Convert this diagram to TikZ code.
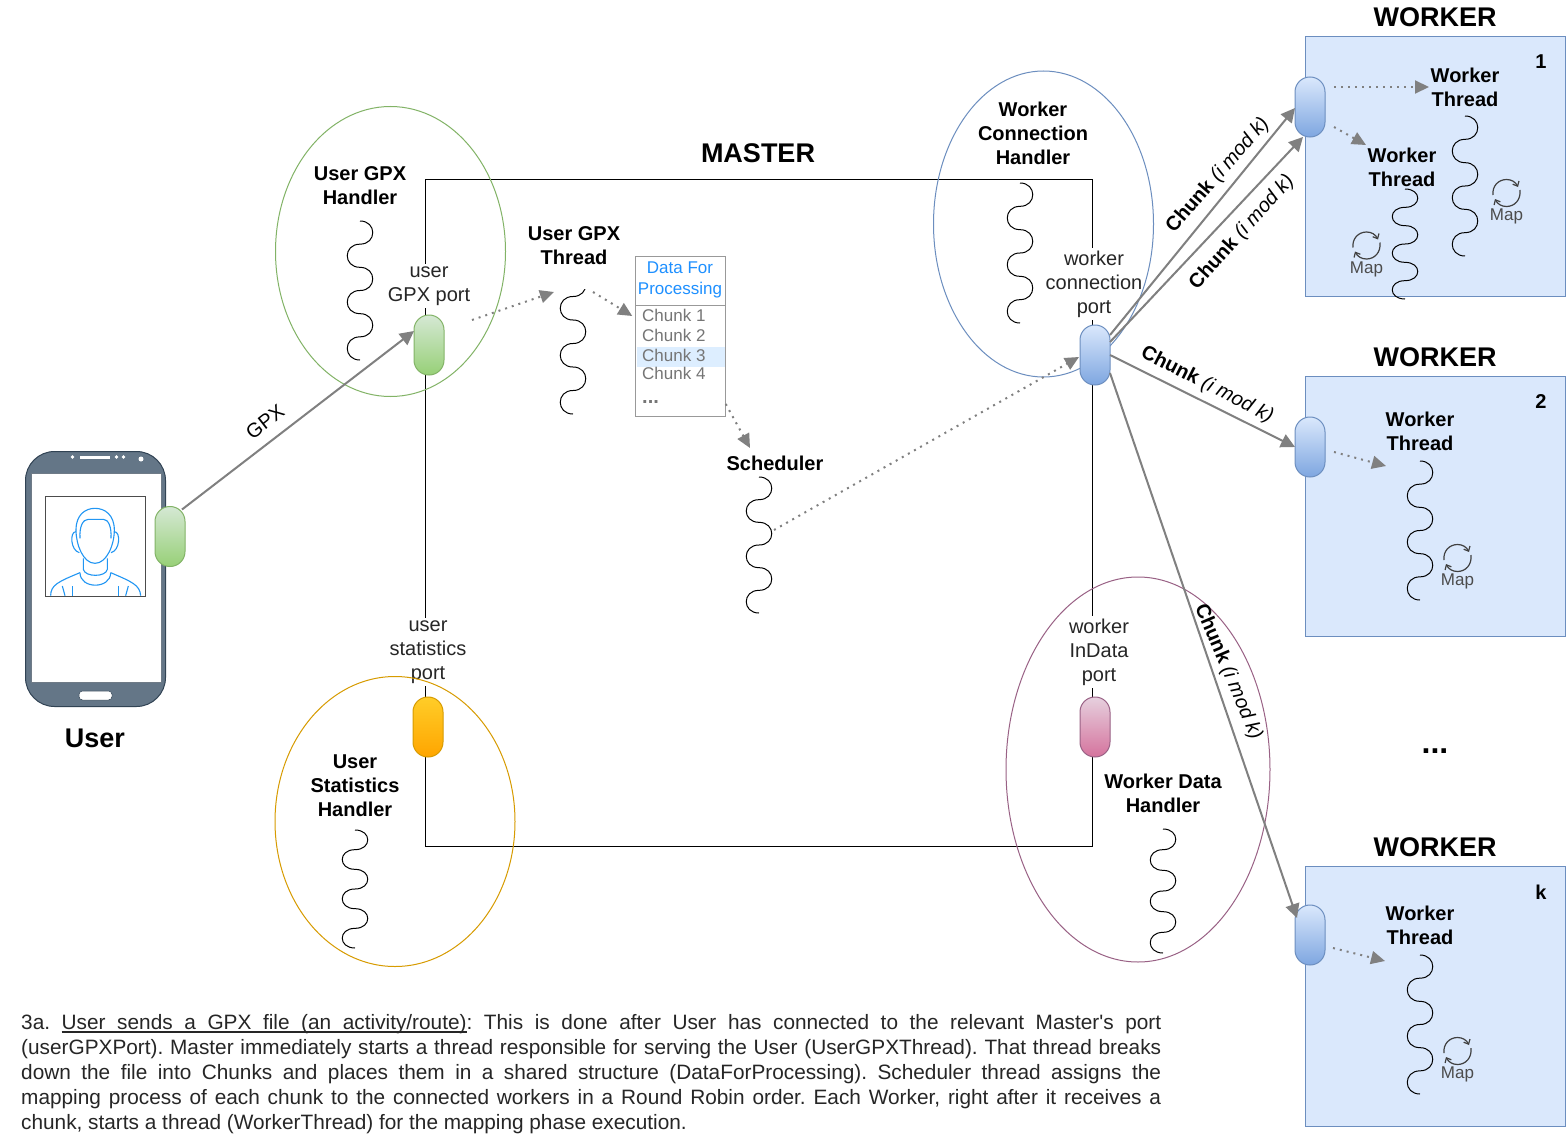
\documentclass[tikz,border=0pt]{standalone}
\usepackage{fontspec}
\setmainfont{Liberation Sans}
\usetikzlibrary{arrows.meta,calc,shapes.geometric}
\definecolor{arrowgray}{HTML}{808080}
\definecolor{wfill}{HTML}{DAE8FC}
\definecolor{wline}{HTML}{6C8EBF}
\definecolor{phonefill}{HTML}{647687}
\definecolor{phoneline}{HTML}{314354}
\definecolor{personblue}{HTML}{2196F3}
\definecolor{dodger}{HTML}{1E90FF}
\definecolor{txtgray}{HTML}{757575}
\definecolor{hl}{HTML}{DDEEFF}
\definecolor{wgreen}{HTML}{82B366}
\definecolor{wgreenA}{HTML}{D5E8D4}
\definecolor{wgreenB}{HTML}{97D077}
\definecolor{wblueB}{HTML}{7EA6E0}
\definecolor{orangeL}{HTML}{D79B00}
\definecolor{orangeA}{HTML}{FFCD28}
\definecolor{orangeB}{HTML}{FFA500}
\definecolor{pinkL}{HTML}{996185}
\definecolor{pinkA}{HTML}{E6D0DE}
\definecolor{pinkB}{HTML}{D5739D}
\newcommand\szA{\fontsize{20}{24}\selectfont}
\newcommand\szB{\fontsize{17}{20}\selectfont}
\newcommand\szC{\fontsize{27}{32}\selectfont}
\newcommand\ulw[1]{\leavevmode\setbox0\hbox{#1}\rlap{\vrule height -2.2pt depth 3.5pt width \wd0}\box0 }
\newcommand\ulsp{\unskip\leaders\hrule height -2.2pt depth 3.5pt\hskip 0.278em plus 0.139em minus 0.09em\relax}
\newcommand\wavy[3]{%
  \pgfmathsetmacro\wavL{#3/6}\pgfmathsetmacro\wavA{#1+17}\pgfmathsetmacro\wavB{#1-17}%
  \draw[threadwave] (#1,#2)
   .. controls (\wavA,#2) and (\wavA,{#2+\wavL}) .. (#1,{#2+\wavL})
   .. controls (\wavB,{#2+\wavL}) and (\wavB,{#2+2*\wavL}) .. (#1,{#2+2*\wavL})
   .. controls (\wavA,{#2+2*\wavL}) and (\wavA,{#2+3*\wavL}) .. (#1,{#2+3*\wavL})
   .. controls (\wavB,{#2+3*\wavL}) and (\wavB,{#2+4*\wavL}) .. (#1,{#2+4*\wavL})
   .. controls (\wavA,{#2+4*\wavL}) and (\wavA,{#2+5*\wavL}) .. (#1,{#2+5*\wavL})
   .. controls (\wavB,{#2+5*\wavL}) and (\wavB,{#2+6*\wavL}) .. (#1,{#2+6*\wavL});}
\newcommand\mapicon[2]{%
  \begin{scope}[shift={(#1,#2)}]
    \draw[refresh] (-13.5,2) .. controls (-14.5,-7) and (-8,-13.5) .. (0,-13.5) .. controls (5,-13.5) and (9,-11) .. (11.5,-6);
    \draw[refresh] (13.5,-3) .. controls (14.5,7) and (8,13.5) .. (0,13.5) .. controls (-5,13.5) and (-9,11) .. (-11.5,6);
    \node[maplabel] at (0,23.5) {Map};
  \end{scope}}
\tikzset{
  x=1pt,y=-1pt,
  threadwave/.style={draw=black,line width=1pt},
  pill/.style={draw,line width=1pt,rounded corners=14.9pt,minimum width=30pt,minimum height=60pt,inner sep=0pt},
  pgreen/.style={pill,draw=wgreen,top color=wgreenA,bottom color=wgreenB},
  pblue/.style={pill,draw=wline,top color=wfill,bottom color=wblueB},
  porange/.style={pill,draw=orangeL,top color=orangeA,bottom color=orangeB},
  ppink/.style={pill,draw=pinkL,top color=pinkA,bottom color=pinkB},
  solidarrow/.style={draw=arrowgray,line width=2pt,-{Triangle[length=14pt,width=14pt,fill=arrowgray]}},
  dotarrow/.style={draw=arrowgray,line width=2pt,dash pattern=on 2pt off 5pt,-{Triangle[length=14pt,width=13pt,fill=arrowgray,sep=0pt]}},
  lbl/.style={font=\szA\bfseries,align=center,inner sep=0pt},
  portlbl/.style={font=\szA,align=center,inner xsep=1pt,inner ysep=3pt,fill=white,text=black!85},
  chunklbl/.style={font=\szA,inner sep=0pt,text=black},
  wtitle/.style={font=\szC\bfseries,inner sep=0pt},
  wbox/.style={draw=wline,fill=wfill,line width=1pt,minimum width=260pt,minimum height=260pt,inner sep=0pt},
  refresh/.style={draw=black!75,line width=1.2pt,-{Straight Barb[length=4pt,width=7pt]}},
  maplabel/.style={font=\szB,text=black!70,inner sep=0pt},
  chunk/.style={font=\szB,text=txtgray,inner sep=0pt,anchor=west},
  person/.style={draw=personblue,line width=1.1pt},
  handler/.style={draw=#1,line width=1pt,ellipse,inner sep=0pt},
}
\begin{document}
\begin{tikzpicture}
\useasboundingbox (0,0) rectangle (1567,1148);
\fill[white] (0,0) rectangle (1567,1148);

% master
\node[draw=black,line width=1pt,minimum width=666.5pt,minimum height=666.5pt,inner sep=0pt] (master) at (758.8,513) {};
\node[wtitle] (mastert) at (758,153) {MASTER};

% worker boxes
\node[wbox] (w1) at (1435.5,166.5) {};
\node[wbox] (w2) at (1435.5,506.5) {};
\node[wbox] (wk) at (1435.5,996.5) {};
\node[wtitle] (w1t) at (1435,17) {WORKER};
\node[wtitle] (w2t) at (1435,357) {WORKER};
\node[wtitle] (wkt) at (1435,847) {WORKER};
\node[font=\fontsize{32}{36}\selectfont\bfseries,inner sep=0pt] (dots) at (1435,751) {...};
\node[lbl] (n1) at (1541,62) {1};
\node[lbl] (n2) at (1541,402) {2};
\node[lbl] (nk) at (1541,892) {k};

% port labels
\node[portlbl] (lgpx) at (429,286) {user\\GPX port};
\node[portlbl] (lstat) at (428,652) {user\\statistics\\port};
\node[portlbl] (lconn) at (1094,284) {worker\\connection\\port};
\node[portlbl] (lind) at (1099,652) {worker\\InData\\port};

% handler ellipses
\node[handler=wgreen,minimum width=230pt,minimum height=290pt] (hgpx) at (390.5,251.5) {};
\node[handler=orangeL,minimum width=240pt,minimum height=290pt] (hstat) at (395,821.5) {};
\node[handler=wline,minimum width=220pt,minimum height=306pt] (hconn) at (1043.5,224) {};
\node[handler=pinkL,minimum width=264pt,minimum height=385pt] (hdata) at (1138,769.5) {};

% text labels
\node[lbl] (t1) at (360,186) {User GPX\\Handler};
\node[lbl] (t2) at (574,246) {User GPX\\Thread};
\node[lbl] (t3) at (1033,133) {Worker\\Connection\\Handler};
\node[lbl] (t4) at (775,463) {Scheduler};
\node[lbl] (t5) at (355,786) {User\\Statistics\\Handler};
\node[lbl] (t6) at (1163,793) {Worker Data\\Handler};
\node[lbl] (t7) at (1465,87) {Worker\\Thread};
\node[lbl] (t8) at (1402,167) {Worker\\Thread};
\node[lbl] (t9) at (1420,431) {Worker\\Thread};
\node[lbl] (t10) at (1420,925) {Worker\\Thread};
\node[font=\fontsize{27}{32}\selectfont\bfseries,inner sep=0pt] (tuser) at (95,738) {User};

% waves
\wavy{360}{221}{139}
\begin{scope}
  \clip (540,289) rectangle (600,420);
  \wavy{573}{273}{141}
\end{scope}
\wavy{759}{477}{136}
\wavy{1020}{183}{140}
\wavy{355}{830}{118}
\wavy{1163}{829}{124}
\wavy{1465}{116}{140}
\wavy{1405}{189}{110}
\wavy{1420}{461}{139}
\wavy{1420}{955}{139}

% map icons
\mapicon{1506.5}{193}
\mapicon{1366.5}{245.5}
\mapicon{1457.5}{558}
\mapicon{1457.5}{1051}

% data for processing
\node[draw=black!40,fill=white,line width=1pt,minimum width=89.5pt,minimum height=160pt,inner sep=0pt] (dfp) at (680.5,336) {};
\fill[hl] (636.5,346.5) rectangle (725,366.5);
\draw[black!40,line width=1pt] (dfp.west |- 0,305) -- (dfp.east |- 0,305);
\node[font=\szB,text=dodger,align=center,inner sep=0pt] (dfpt) at (680,280) {Data For\\[1pt]Processing};
\node[chunk] (c1) at (642,315) {Chunk 1};
\node[chunk] (c2) at (642,335) {Chunk 2};
\node[chunk] (c3) at (642,355) {Chunk 3};
\node[chunk] (c4) at (642,373) {Chunk 4};
\node[chunk,font=\fontsize{20}{24}\selectfont\bfseries] (c5) at (642,402) {...};

% phone
\node[draw=phoneline,fill=phonefill,line width=1pt,rounded corners=29pt,minimum width=140pt,minimum height=255pt,inner sep=0pt] (phone) at (95.5,579) {};
\node[fill=white,draw=phoneline!70,line width=.5pt,minimum width=130pt,minimum height=209pt,inner sep=0pt] (screen) at (96,578.2) {};
\node[fill=white,draw=phoneline,line width=.5pt,rounded corners=3.5pt,minimum width=33pt,minimum height=9pt,inner sep=0pt] (homeb) at (95.5,695.5) {};
\fill[white] (79.5,456) rectangle (110,458.5);
\fill[white] (72.5,457) circle[radius=1.8pt] (116.5,457) circle[radius=1.8pt] (123.5,457) circle[radius=1.8pt] (141,459) circle[radius=2.5pt];
\node[draw=black!70,fill=white,line width=1pt,minimum width=100pt,minimum height=100pt,inner sep=0pt] (photo) at (95.5,546.5) {};
\begin{scope}[shift={(0,430)},x=0.33333pt,y=-0.33333pt]
  \draw[person] (228,300) .. controls (228,255) and (255,235) .. (285,235) .. controls (315,235) and (343,255) .. (343,300);
  \draw[person] (228,300) .. controls (228,345) and (250,400) .. (285,400) .. controls (320,400) and (343,345) .. (343,300);
  \draw[person] (240,325) .. controls (238,290) and (248,268) .. (265,268) -- (310,268) .. controls (325,268) and (335,290) .. (333,325);
  \draw[person] (228,305) .. controls (208,305) and (212,362) .. (238,368);
  \draw[person] (343,305) .. controls (363,305) and (360,362) .. (333,368);
  \draw[person] (250,385) -- (250,418) .. controls (255,442) and (318,442) .. (322,418) -- (322,385);
  \draw[person] (240,428) .. controls (240,478) and (332,478) .. (332,428);
  \draw[person] (152,497) .. controls (152,465) and (175,455) .. (240,428);
  \draw[person] (422,497) .. controls (420,465) and (395,455) .. (332,428);
  \draw[person] (187,468) -- (195,497);
  \draw[person] (217,468) -- (217,497);
  \draw[person] (355,468) -- (355,497);
  \draw[person] (385,468) -- (377,497);
\end{scope}

% pills
\node[pgreen] (pphone) at (170,536.5) {};
\node[pgreen] (pgpx) at (429,345) {};
\node[porange] (pstat) at (428,727) {};
\node[ppink] (pind) at (1095,727) {};
\node[pblue] (pconn) at (1095,355) {};
\node[pblue] (pw1) at (1310,107) {};
\node[pblue] (pw2) at (1310,447) {};
\node[pblue] (pwk) at (1310,935) {};

% connectors
\draw[solidarrow] ($(pphone)+(12,-27)$) -- ($(pgpx)+(-15,-14)$);
\draw[solidarrow] ($(pconn)+(15,-20)$) -- ($(pw1)+(-15,1)$);
\draw[solidarrow] ($(pconn)+(15,-13)$) -- ($(pw1)+(-7,30)$);
\draw[solidarrow] ($(pconn)+(15,0)$) -- ($(pw2)+(-15,0)$);
\draw[solidarrow] ($(pconn)+(15,18)$) -- ($(pwk)+(-13,-17)$);

\draw[dotarrow] ($(pgpx)+(43,-25)$) -- ($(t2)+(-20,46)$);
\draw[dotarrow] ($(t2)+(19,46)$) -- ($(dfp.west)+(-3,-20)$);
\draw[dotarrow] ($(dfp.east)+(0,68)$) -- ($(t4)+(-25,-15)$);
\draw[dotarrow] ($(t4)+(-1,67)$) -- ($(pconn)+(-16,2)$);
\draw[dotarrow] ($(pw1)+(24,-20)$) -- ($(t7)+(-36,0)$);
\draw[dotarrow] ($(pw1)+(24,20)$) -- ($(t8)+(-36,-22)$);
\draw[dotarrow] ($(pw2)+(24,5)$) -- ($(t9)+(-34,35)$);
\draw[dotarrow] ($(pwk)+(23,13)$) -- ($(t10)+(-35,36)$);

% connector labels
\node[font=\szA,inner sep=0pt,rotate=38] (lg) at (265,422) {GPX};
\node[chunklbl,rotate=49] (lc1) at (1218,175.5) {\textbf{Chunk} \textit{(i mod k)}};
\node[chunklbl,rotate=48] (lc2) at (1242,232.5) {\textbf{Chunk} \textit{(i mod k)}};
\node[chunklbl,rotate=-27] (lc3) at (1207,385) {\textbf{Chunk} \textit{(i mod k)}};
\node[chunklbl,rotate=-67] (lc4) at (1228,672) {\textbf{Chunk} \textit{(i mod k)}};

% paragraph
\node[font=\szA,text=black!85,text width=1140pt,align=justify,anchor=north west,inner sep=0pt] (para) at (21,1014) {\fontsize{20.8}{25}\selectfont\frenchspacing
3a. \ulw{User}\ulsp\ulw{sends}\ulsp\ulw{a}\ulsp\ulw{GPX}\ulsp\ulw{file}\ulsp\ulw{(an}\ulsp\ulw{activity/route)}\unskip: This is done after User has connected to the relevant Master\XeTeXglyph\XeTeXcharglyph"27\relax s port\linebreak
(userGPXPort). Master immediately starts a thread responsible for serving the User (UserGPXThread). That thread breaks\linebreak
down the file into Chunks and places them in a shared structure (DataForProcessing). Scheduler thread assigns the\linebreak
mapping process of each chunk to the connected workers in a Round Robin order. Each Worker, right after it receives a\linebreak
chunk, starts a thread (WorkerThread) for the mapping phase execution.\par};
\end{tikzpicture}
\end{document}
